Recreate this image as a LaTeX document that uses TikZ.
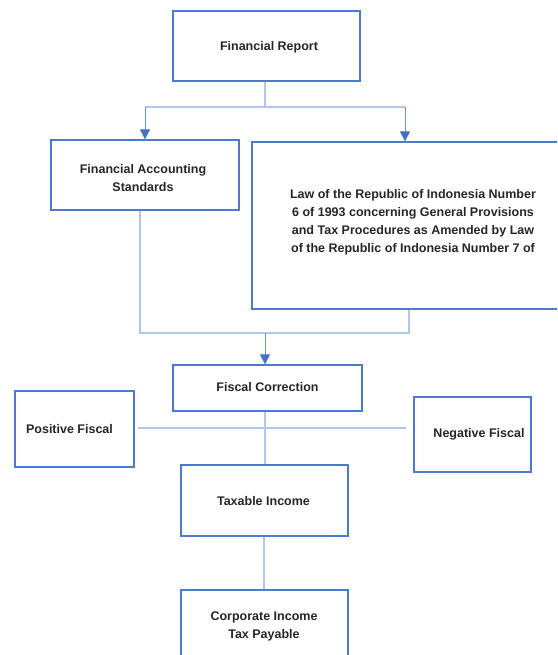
\documentclass[tikz,border=0pt]{standalone}
\usepackage{fontspec}
\setmainfont{Liberation Sans}
\usetikzlibrary{arrows.meta}
\definecolor{boxblue}{HTML}{4A7BD0}
\definecolor{lineblue}{HTML}{B0C8EC}
\definecolor{tipblue}{HTML}{4472C4}
\definecolor{arrline}{HTML}{6A92D8}
\begin{document}
\begin{tikzpicture}[x=1pt,y=-1pt,
  box/.style={draw=boxblue,line width=1.3pt,fill=white,inner sep=0pt},
  txt/.style={inner sep=0pt,align=center,
    font=\fontsize{12.5}{18}\selectfont\bfseries,text=black!85},
  conn/.style={draw=lineblue,line width=1.2pt},
  arr/.style={draw=arrline,line width=1pt,-{Triangle[width=10pt,length=10pt,color=tipblue]}}]
\useasboundingbox (0,0) rectangle (557,655);
\clip (0,0) rectangle (557,655);
\node[box,minimum width=187pt,minimum height=70pt] (fr) at (266.5,46) {};
\node[txt] (frt) at (269,47) {Financial Report};
\node[box,minimum width=188pt,minimum height=70pt] (fas) at (145,175) {};
\node[txt] (fast) at (143,178) {Financial Accounting\\Standards};
\node[box,minimum width=318pt,minimum height=167pt] (law) at (411,225.5) {};
\node[txt] (lawt) at (413,222) {Law of the Republic of Indonesia Number\\6 of 1993 concerning General Provisions\\and Tax Procedures as Amended by Law\\of the Republic of Indonesia Number 7 of};
\node[box,minimum width=189pt,minimum height=46pt] (fc) at (267.5,388) {};
\node[txt] (fct) at (267.5,387) {Fiscal Correction};
\node[box,minimum width=119pt,minimum height=76pt] (pf) at (74.5,429) {};
\node[txt] (pft) at (69.5,429) {Positive Fiscal};
\node[box,minimum width=117pt,minimum height=75pt] (nf) at (472.5,434.5) {};
\node[txt] (nft) at (479,434) {Negative Fiscal};
\node[box,minimum width=167pt,minimum height=71pt] (ti) at (264.5,500.5) {};
\node[txt] (tit) at (263.5,501) {Taxable Income};
\node[box,minimum width=167pt,minimum height=72pt] (cit) at (264.5,626) {};
\node[txt] (citt) at (264,626) {Corporate Income\\Tax Payable};
% top split
\coordinate (t0) at (265,107);
\coordinate (tl) at (145,107);
\coordinate (tr) at (405,107);
\draw[conn] (fr.south -| t0) -- (t0);
\draw[conn] (tl) -- (tr);
\draw[arr] (tl) -- (tl |- fas.north);
\draw[arr] (tr) -- (tr |- law.north);
% merge
\coordinate (ml) at (140,333);
\coordinate (mr) at (409,333);
\coordinate (mc) at (265,333);
\draw[conn] (ml |- fas.south) -- (ml) -- (mr) -- (mr |- law.south);
\draw[arr] (mc) -- (mc |- fc.north);
% fiscal
\draw[conn] (fc.south -| mc) -- (mc |- ti.north);
\draw[conn,shorten <=3pt,shorten >=7pt] (pf.east |- 0,428) -- (nf.west |- 0,428);
\draw[conn] (ti.south -| 264,0) -- (cit.north -| 264,0);
\end{tikzpicture}
\end{document}
